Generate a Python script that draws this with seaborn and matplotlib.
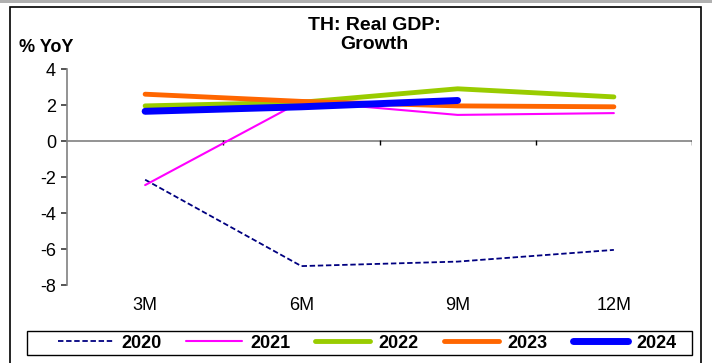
import numpy as np
import pandas as pd
import matplotlib
matplotlib.use("Agg")
import matplotlib.pyplot as plt
from matplotlib.patches import Rectangle
import seaborn as sns

periods = ["3M", "6M", "9M", "12M"]
years = ["2020", "2021", "2022", "2023", "2024"]
g2020 = [-2.15, -6.95, -6.7, -6.05]
g2021 = [-2.45, 2.2, 1.45, 1.55]
g2022 = [1.95, 2.15, 2.9, 2.45]
g2023 = [2.6, 2.2, 1.95, 1.9]
g2024 = [1.65, 1.9, 2.25]

colours = ["#000080", "#FF00FF", "#99CC00", "#FF6600", "#0000FF"]
widths = [1.3, 1.5, 3.5, 3.5, 5.0]
styles = [(0, (3, 1.5)), "-", "-", "-", "-"]

sns.set_theme(style="white")
plt.rcParams["font.family"] = ["Liberation Sans", "DejaVu Sans"]
plt.rcParams["axes.unicode_minus"] = False
plt.rcParams["text.color"] = "black"
plt.rcParams["xtick.color"] = "black"
plt.rcParams["ytick.color"] = "black"

fig = plt.figure(figsize=(7.12, 3.63), dpi=100)
ax = fig.add_axes([67 / 712, 1 - 285 / 363, (692 - 67) / 712, (285 - 69) / 363])

# zero line with the category dividers on it
ax.axhline(0, color="#808080", lw=1.2, zorder=1)
ax.vlines(np.arange(len(periods)) + 0.5, -0.2, 0.05, color="black", lw=1, zorder=1)

series = [g2020, g2021, g2022, g2023, g2024]
for yr, vals, c, w, ls in zip(years, series, colours, widths, styles):
    df = pd.DataFrame({"x": np.arange(len(vals)), "y": vals})
    sns.lineplot(data=df, x="x", y="y", ax=ax, color=c, lw=w, linestyle=ls,
                 label=yr, solid_capstyle="round", zorder=3)

ax.set_xlim(-0.5, len(periods) - 0.5)
ax.set_ylim(-8, 4)
ax.set_yticks(np.arange(-8, 5, 2))
ax.set_xticks(np.arange(len(periods)))
ax.set_xticklabels(periods)
ax.tick_params(axis="y", left=True, length=4, color="#404040", labelsize=13, pad=4)
ax.tick_params(axis="x", bottom=False, labelsize=13, pad=3)
for s in ["top", "right", "bottom"]:
    ax.spines[s].set_visible(False)
ax.spines["left"].set_color("#808080")
ax.spines["left"].set_linewidth(1.2)
ax.set_xlabel("")
ax.set_ylabel("")

fig.text(374 / 712, 1 - 35 / 363, "TH: Real GDP:\nGrowth", ha="center", va="center",
         fontsize=14, fontweight="bold", linespacing=1.15)
fig.text(19 / 712, 1 - 47 / 363, "% YoY", ha="left", va="center", fontsize=13, fontweight="bold")

ax.get_legend().remove()
handles, labels = ax.get_legend_handles_labels()
leg = fig.legend(handles, labels, loc="center", ncol=5,
                 bbox_to_anchor=(367 / 712, 1 - 343 / 363),
                 frameon=False, handlelength=3.06,
                 prop={"weight": "bold", "size": 13}, borderpad=0, borderaxespad=0,
                 columnspacing=1.39, handletextpad=0.46)
# legend box
fig.patches.append(Rectangle((27 / 712, 1 - 355 / 363), (692 - 27) / 712, 24 / 363,
                             transform=fig.transFigure, fill=False, edgecolor="black", lw=1))

# outer chart border
fig.patches.append(Rectangle((10 / 712, -0.01), (701 - 10) / 712, 1 - 7 / 363 + 0.01,
                             transform=fig.transFigure, fill=False, edgecolor="black", lw=1.2))
fig.patches.append(Rectangle((0, 1 - 3 / 363), 1, 3 / 363, transform=fig.transFigure,
                             facecolor="#b0b0b0", edgecolor="none"))

fig.savefig("out.png", dpi=100)
